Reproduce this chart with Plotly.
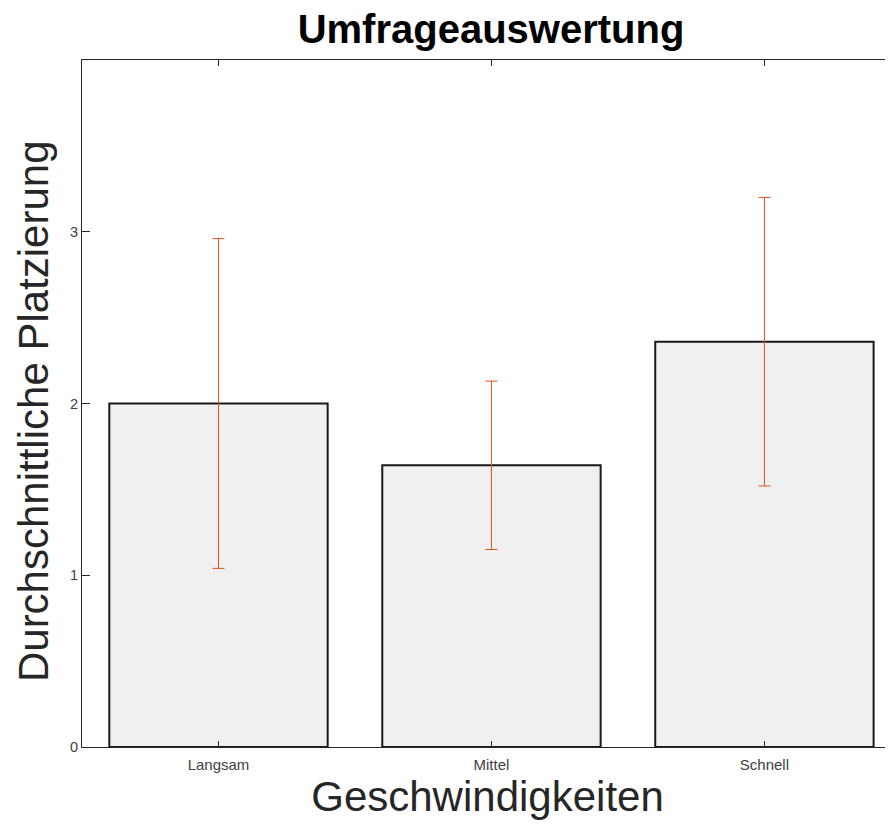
import plotly.graph_objects as go

categories = ["Langsam", "Mittel", "Schnell"]
means = [2.0, 1.64, 2.36]
errors = [0.96, 0.49, 0.84]
positions = [1, 2, 3]
y_ticks = [0, 1, 2, 3]

FONT = "Liberation Sans, Arial, Helvetica"

fig = go.Figure()
fig.add_trace(go.Bar(
    x=positions, y=means, width=0.8,
    marker=dict(color="#f0f0f0", line=dict(color="#1a1a1a", width=2)),
    showlegend=False,
))
fig.add_trace(go.Scatter(
    x=positions, y=means, mode="markers",
    marker=dict(size=1, color="rgba(0,0,0,0)"),
    error_y=dict(type="data", array=errors, visible=True,
                 color="#d9541a", thickness=1, width=6),
    showlegend=False,
))

# page body has an 8px margin; figure sized so no scrollbars appear
fig.update_layout(
    width=885, height=812,
    paper_bgcolor="white", plot_bgcolor="white",
    margin=dict(l=74, r=0, t=52, b=73, autoexpand=False),
    title=dict(text="<b>Umfrageauswertung</b>", x=0.5458, xanchor="center",
               y=1.0, yanchor="top", yref="container", pad=dict(t=7),
               font=dict(family=FONT, size=40, color="black")),
    font=dict(family=FONT, color="#404040"),
    annotations=[dict(
        text="Durchschnittliche Platzierung", textangle=-90,
        xref="paper", yref="paper", x=0, y=0.489,
        xanchor="center", yanchor="middle", xshift=-49, showarrow=False,
        font=dict(family=FONT, size=42, color="#262626"),
    )],
)
fig.update_xaxes(
    range=[0.5, 3.471], tickvals=positions, ticktext=categories,
    showline=True, linecolor="#262626", linewidth=1, mirror="ticks",
    ticks="inside", ticklen=6, tickcolor="#262626",
    tickfont=dict(size=15, color="#404040"), ticklabelstandoff=4,
    showgrid=False, zeroline=False,
    title=dict(text="Geschwindigkeiten", standoff=18,
               font=dict(size=42, color="#262626")),
)
fig.update_yaxes(
    range=[0, 4], tickvals=y_ticks,
    showline=True, linecolor="#262626", linewidth=1,
    ticks="inside", ticklen=8, tickcolor="#262626",
    tickfont=dict(size=14.5, color="#404040"),
    showgrid=False, zeroline=False,
)

fig.write_html("out.html")
